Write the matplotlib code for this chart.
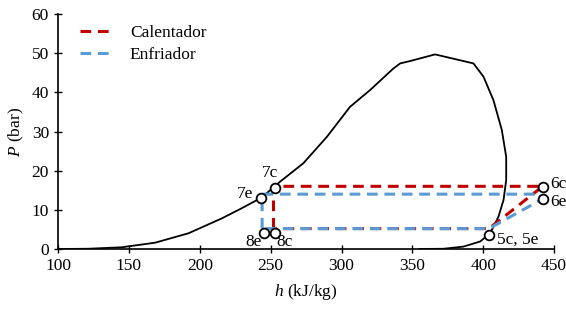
import matplotlib
matplotlib.use("Agg")
import matplotlib.pyplot as plt

# Saturation dome (h in kJ/kg, P in bar)
dome_h = [100, 121, 145, 168.5, 192, 215.5, 229.6, 243, 251.7, 256.7, 273.1, 289.6,
          306, 320.2, 336.6, 341.4, 348.4, 366, 393.1, 400.2, 407.2, 413.1, 416.2,
          416.2, 414.3, 410.7, 404.9, 397.8, 386, 372, 355]
dome_P = [0, 0.05, 0.43, 1.6, 4.0, 7.8, 10.4, 13.0, 15.6, 17.2, 21.9, 28.6,
          36.3, 40.6, 46.1, 47.4, 48.0, 49.7, 47.4, 44.0, 38.0, 30.4, 23.5,
          17.6, 12.5, 8.2, 4.0, 1.9, 0.6, 0.05, 0]

# Cycles
cal_h = [252, 252, 442, 404, 252]
cal_P = [5.2, 16.0, 16.0, 5.2, 5.2]
enf_h = [244, 244, 440, 442, 404, 244]
enf_P = [5.2, 14.0, 14.0, 12.8, 5.2, 5.2]

# State point markers
pt_h = [253, 243, 245, 253, 404, 442, 442]
pt_P = [15.6, 13.0, 4.1, 4.1, 3.6, 15.8, 12.8]

# State labels
lab_text = ["7c", "7e", "8e", "8c", "5c, 5e", "6c", "6e"]
lab_h = [249.5, 232, 238, 260, 424.6, 453, 453]
lab_P = [19.4, 14.0, 1.8, 1.8, 2.3, 16.6, 12.0]

x_ticks = [100, 150, 200, 250, 300, 350, 400, 450]
y_ticks = [0, 10, 20, 30, 40, 50, 60]

plt.rcParams['font.family'] = ['Liberation Serif', 'DejaVu Serif']
plt.rcParams['mathtext.fontset'] = 'custom'
plt.rcParams['mathtext.it'] = 'Liberation Serif:italic'
plt.rcParams['mathtext.rm'] = 'Liberation Serif'

fig = plt.figure(figsize=(5.66, 3.2), dpi=100)
ax = fig.add_axes([0.1025, 0.222, 0.8765, 0.734])

ax.plot(dome_h, dome_P, color='black', lw=1.3, zorder=2, solid_joinstyle='round')
ax.plot(cal_h, cal_P, color='#C00000', lw=2.2, dashes=(3.5, 2.2), label='Calentador', zorder=3)
ax.plot(enf_h, enf_P, color='#5B9BD5', lw=2.2, dashes=(3.5, 2.2), label='Enfriador', zorder=3)
ax.plot(pt_h, pt_P, linestyle='none', marker='o', ms=7, mfc='white', mec='black', mew=1.3,
        zorder=5, clip_on=False)

for t, h, p in zip(lab_text, lab_h, lab_P):
    ax.text(h, p, t, fontsize=12.5, ha='center', va='center', clip_on=False, zorder=6)

ax.set_xlim(100, 450)
ax.set_ylim(0, 60)
ax.set_xticks(x_ticks)
ax.set_yticks(y_ticks)
ax.tick_params(direction='inout', length=6, width=1, labelsize=12.5, color='black')
for s in ['top', 'right']:
    ax.spines[s].set_visible(False)
for s in ['left', 'bottom']:
    ax.spines[s].set_linewidth(1.2)

ax.set_xlabel(r'$h$ (kJ/kg)', fontsize=12.5, labelpad=6)
ax.set_ylabel(r'$P$ (bar)', fontsize=12.5, labelpad=4)

ax.legend(loc='upper left', bbox_to_anchor=(0.012, 1.02), frameon=False, fontsize=12.5,
          handlelength=2.0, handletextpad=0.9, labelspacing=0.35)

fig.savefig('out.png', dpi=100)
